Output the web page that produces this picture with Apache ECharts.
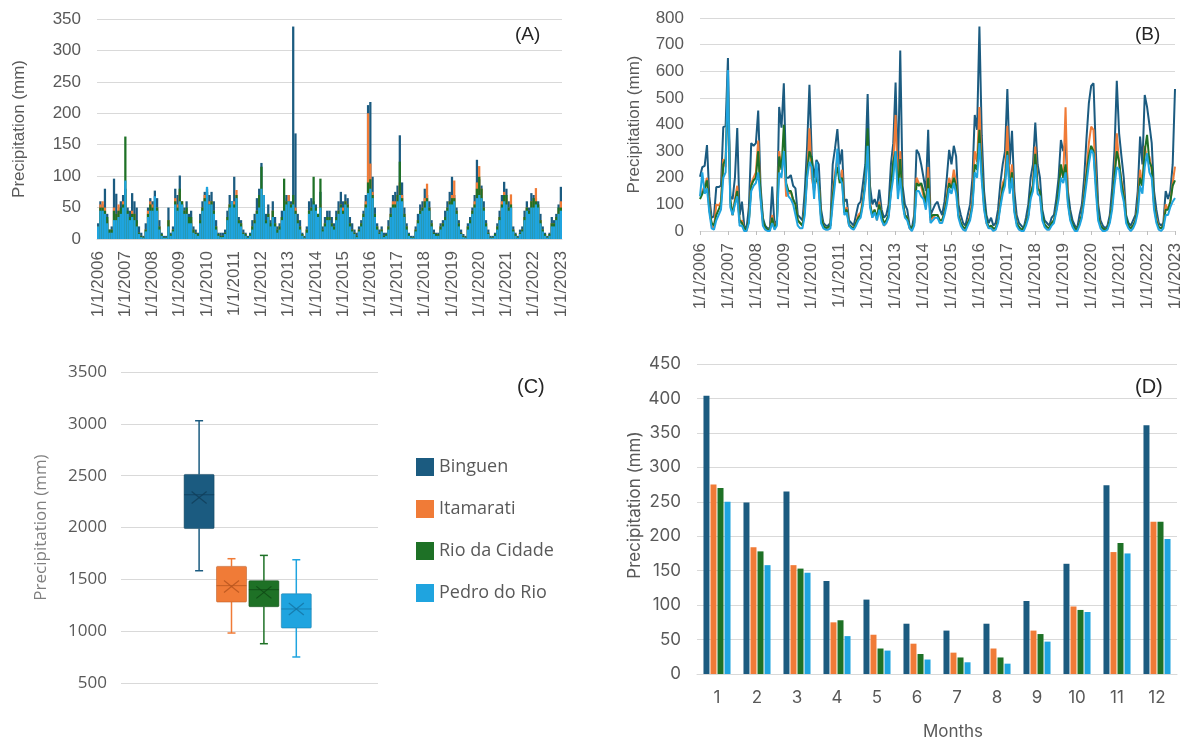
<!DOCTYPE html>
<html>
<head>
<meta charset="utf-8">
<script src="https://cdn.jsdelivr.net/npm/echarts@6/dist/echarts.min.js"></script>
<style>
html,body{margin:0;padding:0;background:#fff;}
#chart{width:1184px;height:742px;}
</style>
</head>
<body>
<div id="chart"></div>
<script>
// ---------- DATA ----------
const stations = ['Binguen', 'Itamarati', 'Rio da Cidade', 'Pedro do Rio'];

// monthly categories Jan 2006 .. Jan 2023
const monthLabels = [];
for (let y = 2006; y <= 2023; y++) {
  for (let m = 1; m <= 12; m++) {
    if (y === 2023 && m > 1) break;
    monthLabels.push(m + '/1/' + y);
  }
}

// (A) maximum daily precipitation per month (mm)
const binguenDaily = [
  25, 60, 55, 80, 40, 15, 20, 96, 72, 45, 60, 70,
  80, 50, 45, 73, 60, 50, 20, 10, 5, 25, 50, 65,
  60, 77, 65, 30, 10, 5, 5, 50, 10, 20, 80, 70,
  101, 55, 50, 60, 40, 45, 20, 15, 10, 40, 60, 75,
  80, 70, 75, 60, 30, 10, 10, 10, 15, 45, 70, 60,
  99, 60, 35, 30, 15, 10, 5, 10, 30, 40, 65, 80,
  121, 70, 40, 55, 30, 60, 35, 20, 25, 45, 65, 70,
  70, 60, 338, 168, 40, 30, 10, 5, 20, 60, 65, 60,
  55, 40, 75, 20, 35, 45, 45, 35, 25, 45, 60, 75,
  60, 71, 65, 35, 25, 15, 10, 20, 30, 45, 70, 213,
  218, 99, 50, 25, 15, 20, 10, 10, 30, 50, 70, 75,
  85, 165, 90, 50, 25, 10, 5, 5, 20, 40, 55, 60,
  80, 70, 60, 30, 15, 10, 10, 25, 30, 45, 60, 75,
  99, 70, 50, 30, 15, 8, 5, 25, 35, 50, 70, 126,
  95, 85, 60, 30, 15, 5, 5, 10, 25, 45, 70, 91,
  80, 60, 50, 20, 10, 5, 15, 20, 45, 60, 50, 73,
  70, 65, 60, 40, 20, 10, 5, 10, 35, 30, 40, 55,
  83
];
const itamaratiDaily = [
  20, 55, 60, 50, 30, 10, 15, 50, 40, 55, 45, 60,
  70, 40, 30, 45, 40, 25, 10, 5, 3, 15, 45, 60,
  55, 60, 50, 20, 8, 3, 3, 30, 8, 15, 65, 55,
  75, 60, 45, 45, 30, 30, 15, 10, 8, 30, 50, 70,
  70, 60, 60, 45, 20, 8, 5, 5, 10, 35, 55, 55,
  60, 78, 30, 25, 10, 8, 3, 8, 20, 30, 45, 65,
  80, 55, 30, 40, 20, 45, 25, 15, 20, 35, 55, 60,
  70, 55, 60, 50, 30, 20, 8, 3, 15, 45, 50, 50,
  45, 35, 55, 15, 25, 35, 35, 25, 20, 35, 45, 55,
  50, 60, 55, 25, 15, 10, 5, 15, 25, 40, 60, 200,
  120, 75, 40, 20, 10, 15, 5, 8, 20, 40, 60, 60,
  70, 90, 70, 40, 20, 8, 3, 3, 15, 30, 45, 50,
  65, 88, 50, 25, 10, 8, 8, 20, 25, 35, 50, 60,
  70, 93, 45, 25, 10, 5, 3, 20, 30, 45, 60, 90,
  116, 80, 50, 25, 10, 3, 3, 8, 20, 35, 60, 75,
  65, 50, 71, 15, 8, 3, 10, 15, 35, 50, 45, 60,
  60, 81, 50, 30, 15, 8, 3, 8, 25, 25, 35, 45,
  60
];
const rioDaily = [
  20, 50, 50, 45, 35, 15, 15, 45, 40, 45, 50, 55,
  163, 45, 35, 40, 40, 30, 10, 5, 3, 15, 40, 55,
  50, 60, 50, 20, 8, 3, 3, 30, 8, 15, 60, 50,
  80, 60, 45, 50, 35, 35, 15, 10, 8, 30, 50, 65,
  75, 55, 60, 45, 20, 8, 5, 5, 10, 35, 55, 50,
  55, 70, 30, 25, 10, 8, 3, 8, 20, 30, 45, 70,
  115, 55, 30, 40, 25, 45, 25, 15, 20, 35, 96, 60,
  60, 55, 70, 45, 30, 20, 8, 3, 15, 45, 50, 99,
  50, 40, 96, 15, 25, 35, 35, 25, 20, 35, 45, 55,
  45, 60, 55, 25, 15, 10, 5, 15, 25, 40, 55, 90,
  95, 70, 40, 20, 10, 15, 5, 8, 20, 40, 55, 55,
  70, 123, 65, 40, 20, 8, 3, 3, 15, 30, 45, 50,
  60, 65, 50, 25, 10, 8, 8, 20, 25, 35, 50, 60,
  65, 65, 45, 25, 10, 5, 3, 20, 30, 45, 55, 80,
  99, 80, 50, 25, 10, 3, 3, 8, 20, 35, 55, 70,
  70, 50, 55, 15, 8, 3, 10, 15, 35, 50, 45, 60,
  65, 60, 55, 30, 15, 8, 3, 8, 25, 25, 35, 50,
  50
];
const pedroDaily = [
  20, 45, 45, 40, 25, 10, 10, 30, 30, 35, 40, 50,
  93, 40, 30, 35, 30, 20, 8, 3, 2, 12, 35, 45,
  45, 68, 45, 15, 5, 2, 2, 20, 5, 12, 55, 45,
  60, 55, 40, 40, 25, 25, 10, 8, 5, 25, 45, 60,
  83, 55, 55, 40, 15, 5, 3, 3, 8, 30, 50, 60,
  50, 65, 25, 20, 8, 5, 2, 5, 15, 25, 40, 50,
  80, 70, 25, 35, 20, 35, 20, 10, 15, 30, 45, 55,
  60, 50, 55, 40, 25, 15, 5, 2, 10, 40, 45, 55,
  45, 35, 50, 12, 20, 30, 30, 20, 15, 30, 40, 50,
  40, 55, 50, 20, 12, 8, 3, 12, 20, 35, 50, 73,
  80, 65, 35, 15, 8, 12, 3, 5, 15, 35, 50, 50,
  60, 70, 60, 35, 15, 5, 2, 2, 12, 25, 40, 45,
  50, 60, 45, 20, 8, 5, 5, 15, 20, 30, 45, 55,
  55, 60, 40, 20, 8, 3, 2, 15, 25, 40, 50, 65,
  70, 65, 45, 20, 8, 2, 2, 5, 15, 30, 50, 60,
  55, 45, 50, 12, 5, 2, 8, 12, 30, 45, 40, 50,
  50, 55, 50, 25, 12, 5, 2, 5, 20, 20, 30, 40,
  45
];

// (B) monthly precipitation totals (mm)
const binguenMonthly = [
  204, 240, 245, 323, 130, 50, 55, 165, 165, 170, 390, 395,
  650, 130, 120, 200, 387, 60, 110, 20, 10, 90, 330, 320,
  330, 452, 170, 50, 20, 10, 10, 167, 20, 40, 466, 388,
  555, 200, 200, 210, 170, 160, 60, 50, 40, 150, 317, 549,
  279, 200, 267, 250, 80, 30, 20, 20, 30, 250, 311, 383,
  250, 306, 110, 120, 40, 30, 20, 60, 100, 110, 180, 250,
  514, 170, 100, 120, 90, 155, 80, 50, 60, 100, 250, 330,
  558, 205, 678, 170, 100, 80, 20, 10, 60, 305, 290, 250,
  200, 150, 380, 60, 80, 100, 110, 80, 60, 110, 200, 305,
  250, 320, 280, 100, 60, 30, 20, 60, 100, 200, 436, 380,
  768, 360, 150, 60, 30, 50, 20, 30, 80, 180, 250, 300,
  533, 250, 376, 150, 60, 30, 20, 10, 50, 100, 200, 250,
  407, 250, 200, 80, 40, 30, 20, 50, 60, 120, 200, 342,
  300, 330, 150, 80, 40, 20, 10, 60, 100, 200, 350, 480,
  545, 555, 300, 100, 40, 20, 10, 20, 60, 160, 300, 564,
  367, 280, 200, 60, 30, 20, 40, 60, 150, 355, 250, 511,
  466, 400, 330, 150, 80, 30, 20, 30, 150, 120, 150, 250,
  533
];
const itamaratiMonthly = [
  130, 150, 170, 200, 90, 20, 10, 100, 95, 110, 270, 240,
  560, 110, 60, 120, 170, 30, 40, 5, 0, 40, 180, 200,
  220, 340, 130, 30, 10, 5, 5, 60, 10, 30, 300, 240,
  300, 130, 140, 150, 110, 100, 40, 30, 20, 90, 200, 386,
  200, 150, 210, 180, 50, 20, 10, 10, 20, 140, 220, 270,
  190, 230, 70, 90, 20, 15, 10, 30, 60, 70, 120, 180,
  330, 110, 50, 80, 40, 110, 50, 20, 30, 60, 150, 250,
  436, 150, 300, 110, 60, 50, 10, 5, 30, 200, 180, 170,
  130, 100, 240, 40, 50, 60, 60, 40, 40, 70, 130, 200,
  170, 230, 180, 60, 30, 10, 5, 30, 60, 120, 300, 260,
  466, 230, 90, 30, 10, 20, 5, 10, 40, 110, 180, 200,
  395, 170, 250, 90, 30, 10, 5, 5, 30, 60, 130, 180,
  317, 170, 140, 50, 20, 10, 10, 30, 40, 80, 140, 240,
  200, 465, 110, 50, 20, 5, 5, 30, 60, 140, 230, 330,
  392, 380, 200, 60, 20, 5, 5, 10, 40, 100, 200, 367,
  250, 190, 140, 40, 15, 10, 20, 40, 100, 230, 170, 320,
  267, 280, 230, 100, 50, 15, 10, 20, 100, 80, 110, 180,
  242
];
const rioMonthly = [
  120, 140, 160, 190, 80, 30, 20, 60, 80, 100, 250, 270,
  540, 120, 60, 110, 150, 40, 30, 10, 5, 40, 170, 190,
  200, 300, 140, 40, 15, 5, 5, 50, 10, 30, 280, 230,
  399, 180, 150, 150, 120, 100, 40, 30, 20, 80, 220, 300,
  270, 160, 200, 180, 50, 20, 10, 15, 20, 130, 200, 240,
  180, 200, 70, 80, 25, 15, 10, 30, 50, 60, 110, 190,
  386, 100, 60, 80, 50, 100, 60, 30, 40, 60, 160, 260,
  300, 160, 270, 120, 60, 50, 15, 10, 30, 180, 170, 180,
  150, 100, 200, 50, 60, 60, 60, 40, 40, 70, 120, 180,
  160, 200, 170, 60, 30, 15, 10, 30, 50, 100, 250, 230,
  380, 220, 100, 40, 15, 20, 10, 10, 40, 100, 160, 190,
  300, 160, 220, 80, 30, 15, 5, 10, 30, 60, 140, 170,
  290, 160, 150, 60, 25, 15, 10, 30, 40, 80, 150, 250,
  200, 250, 120, 50, 25, 10, 5, 30, 60, 130, 210, 280,
  320, 300, 180, 60, 20, 10, 5, 10, 40, 100, 200, 300,
  260, 180, 130, 50, 20, 10, 20, 40, 90, 200, 170, 300,
  361, 260, 240, 100, 40, 15, 10, 20, 80, 80, 110, 170,
  190
];
const pedroMonthly = [
  130, 220, 140, 160, 70, 10, 5, 40, 60, 80, 200, 220,
  605, 90, 60, 100, 130, 20, 20, 0, 0, 30, 150, 170,
  180, 220, 120, 20, 5, 0, 0, 30, 5, 20, 220, 200,
  300, 170, 130, 120, 100, 60, 20, 10, 10, 60, 200, 260,
  240, 120, 260, 150, 30, 10, 5, 5, 10, 100, 180, 310,
  200, 180, 60, 70, 20, 10, 5, 20, 40, 50, 100, 170,
  320, 90, 50, 70, 40, 80, 40, 20, 30, 50, 140, 200,
  300, 120, 200, 100, 50, 40, 10, 0, 20, 150, 150, 130,
  120, 80, 160, 30, 40, 50, 50, 30, 30, 60, 100, 160,
  140, 180, 140, 50, 20, 5, 0, 20, 40, 90, 220, 200,
  330, 190, 80, 30, 10, 10, 0, 5, 30, 90, 140, 170,
  286, 140, 200, 70, 20, 5, 0, 0, 20, 50, 120, 150,
  250, 140, 130, 40, 15, 5, 5, 20, 30, 70, 120, 200,
  180, 220, 100, 40, 15, 0, 0, 20, 50, 110, 180, 250,
  305, 290, 150, 40, 10, 0, 0, 5, 30, 80, 170, 240,
  230, 150, 110, 30, 10, 0, 10, 30, 70, 170, 140, 240,
  292, 220, 200, 80, 30, 5, 0, 10, 60, 60, 90, 110,
  124
];

// (C) annual precipitation box plots: [min, Q1, median, Q3, max, mean]
const binguenAnnual   = [1583, 1990, 2316, 2512, 3030, 2290];
const itamaratiAnnual = [982, 1281, 1439, 1625, 1699, 1430];
const rioAnnual       = [879, 1236, 1400, 1487, 1731, 1374];
const pedroAnnual     = [751, 1030, 1214, 1361, 1689, 1214];

// (D) mean monthly precipitation (mm)
const monthNumbers = ['1','2','3','4','5','6','7','8','9','10','11','12'];
const binguenMean   = [404, 249, 265, 135, 108, 73, 63, 73, 106, 160, 274, 361];
const itamaratiMean = [275, 184, 158, 75, 57, 44, 31, 37, 63, 98, 177, 221];
const rioMean       = [270, 178, 153, 78, 37, 29, 24, 24, 58, 93, 190, 221];
const pedroMean     = [250, 158, 147, 55, 34, 21, 17, 15, 47, 90, 175, 196];

// ---------- STYLE ----------
const COLORS = ['#1b5b80', '#f07b37', '#1e7126', '#1fa4df'];
const DARK = ['#103f5a', '#b8561e', '#0f4a15', '#1577a6'];
const SANS = '"Liberation Sans", Arial, sans-serif';
const OPEN = '"Open Sans", sans-serif';
const INTER = 'Inter, sans-serif';
const GRAY = '#595959';
const GRID_LINE = {lineStyle: {color: '#d9d9d9', width: 1}};

const dailySets = [binguenDaily, itamaratiDaily, rioDaily, pedroDaily];
const monthlySets = [binguenMonthly, itamaratiMonthly, rioMonthly, pedroMonthly];
const annualSets = [binguenAnnual, itamaratiAnnual, rioAnnual, pedroAnnual];
const meanSets = [binguenMean, itamaratiMean, rioMean, pedroMean];

const BOX_STEP = 32.4, BOX_W = 30, BOX_SHIFT = -1.8, CAP_W = 8;

function boxRenderer(k) {
  return function (params, api) {
    const x0 = api.value(0);
    const cx = api.coord([x0, api.value(3)])[0] + (k - 1.5) * BOX_STEP + BOX_SHIFT;
    const y = i => api.coord([x0, api.value(i)])[1];
    const yMin = y(1), yQ1 = y(2), yMed = y(3), yQ3 = y(4), yMax = y(5), yMean = y(6);
    const col = COLORS[k], dk = DARK[k];
    const wl = {stroke: col, lineWidth: 1.5};
    const half = BOX_W / 2;
    return {
      type: 'group',
      children: [
        {type: 'line', shape: {x1: cx, y1: yMax, x2: cx, y2: yQ3}, style: wl},
        {type: 'line', shape: {x1: cx, y1: yQ1, x2: cx, y2: yMin}, style: wl},
        {type: 'line', shape: {x1: cx - CAP_W / 2, y1: yMax, x2: cx + CAP_W / 2, y2: yMax}, style: wl},
        {type: 'line', shape: {x1: cx - CAP_W / 2, y1: yMin, x2: cx + CAP_W / 2, y2: yMin}, style: wl},
        {type: 'rect', shape: {x: cx - half, y: yQ3, width: BOX_W, height: yQ1 - yQ3, r: 1},
          style: {fill: col, stroke: dk, lineWidth: 1, strokeOpacity: 0.5}},
        {type: 'line', shape: {x1: cx - half, y1: yMed, x2: cx + half, y2: yMed}, style: {stroke: dk, lineWidth: 1, opacity: 0.8}},
        {type: 'line', shape: {x1: cx - 7.5, y1: yMean - 6, x2: cx + 7.5, y2: yMean + 6}, style: {stroke: dk, lineWidth: 1.2, opacity: 0.85}},
        {type: 'line', shape: {x1: cx - 7.5, y1: yMean + 6, x2: cx + 7.5, y2: yMean - 6}, style: {stroke: dk, lineWidth: 1.2, opacity: 0.85}}
      ]
    };
  };
}

const yearLabel = v => v;
const plainNum = v => String(v);
const tsXAxis = (gi, boundary) => ({
  gridIndex: gi, type: 'category', data: monthLabels, boundaryGap: boundary,
  axisLine: {lineStyle: {color: '#d9d9d9'}},
  axisTick: {interval: 11, alignWithLabel: true, length: 4, lineStyle: {color: '#bfbfbf'}},
  axisLabel: {interval: 11, rotate: 90, margin: 12, color: GRAY, fontSize: 17, fontFamily: SANS, formatter: yearLabel}
});
const valYAxis = (gi, max, interval, font, nameGap) => ({
  gridIndex: gi, type: 'value', min: 0, max: max, interval: interval,
  axisLine: {show: false}, axisTick: {show: false},
  axisLabel: {color: GRAY, fontSize: 17, fontFamily: font, margin: 16, formatter: plainNum},
  splitLine: GRID_LINE,
  name: 'Precipitation (mm)', nameLocation: 'middle', nameGap: nameGap,
  nameTextStyle: {color: GRAY, fontSize: 17, fontFamily: font}
});

const series = [];
stations.forEach((name, k) => {
  series.push({
    name: name, type: 'bar', xAxisIndex: 0, yAxisIndex: 0, data: dailySets[k],
    barGap: '-100%', barCategoryGap: '0%', itemStyle: {color: COLORS[k]}, silent: true
  });
});
stations.forEach((name, k) => {
  series.push({
    name: name, type: 'line', xAxisIndex: 1, yAxisIndex: 1, data: monthlySets[k],
    showSymbol: false, lineStyle: {color: COLORS[k], width: 2}, itemStyle: {color: COLORS[k]}, silent: true
  });
});
stations.forEach((name, k) => {
  series.push({
    name: name, type: 'custom', xAxisIndex: 2, yAxisIndex: 2,
    data: [[0].concat(annualSets[k])],
    encode: {x: 0, y: [1, 2, 3, 4, 5, 6]},
    renderItem: boxRenderer(k), itemStyle: {color: COLORS[k]}, silent: true
  });
});
stations.forEach((name, k) => {
  series.push({
    name: name, type: 'bar', xAxisIndex: 3, yAxisIndex: 3, data: meanSets[k],
    barWidth: 6, barGap: '17%', itemStyle: {color: COLORS[k]}, silent: true
  });
});

const yC = valYAxis(2, 3500, 500, OPEN, 71);
yC.min = 500;
yC.nameTextStyle = {color: '#7f7f7f', fontSize: 17, fontFamily: OPEN};
yC.axisLabel = {color: GRAY, fontSize: 17, fontFamily: OPEN, margin: 14, formatter: plainNum};
const yD = valYAxis(3, 450, 50, INTER, 54);
yD.nameTextStyle = {color: GRAY, fontSize: 17, fontFamily: INTER, padding: [0, 0, 0, 28]};

const chart = echarts.init(document.getElementById('chart'), null, {renderer: 'canvas'});
chart.setOption({
  animation: false,
  backgroundColor: '#ffffff',
  color: COLORS,
  title: [
    {text: '(A)', left: 515, top: 25, padding: 0, textStyle: {fontSize: 19, fontWeight: 'normal', color: '#262626', fontFamily: SANS}},
    {text: '(B)', left: 1135, top: 25, padding: 0, textStyle: {fontSize: 19, fontWeight: 'normal', color: '#262626', fontFamily: SANS}},
    {text: '(C)', left: 517, top: 377, padding: 0, textStyle: {fontSize: 20, fontWeight: 'normal', color: '#262626', fontFamily: SANS}},
    {text: '(D)', left: 1135, top: 377, padding: 0, textStyle: {fontSize: 20, fontWeight: 'normal', color: '#262626', fontFamily: SANS}}
  ],
  legend: {
    data: stations, orient: 'vertical', left: 411, top: 453,
    itemWidth: 18, itemHeight: 18, itemGap: 24, icon: 'rect', selectedMode: false,
    textStyle: {fontFamily: OPEN, fontSize: 18, color: GRAY}
  },
  grid: [
    {left: 97, top: 19, width: 465, height: 220},
    {left: 700, top: 18, width: 475, height: 213},
    {left: 121, top: 372, width: 257, height: 311},
    {left: 697, top: 364, width: 480, height: 310}
  ],
  xAxis: [
    tsXAxis(0, true),
    tsXAxis(1, false),
    {gridIndex: 2, type: 'category', data: [''], axisLine: {show: false}, axisTick: {show: false}, axisLabel: {show: false}},
    {gridIndex: 3, type: 'category', data: monthNumbers,
      axisLine: {lineStyle: {color: '#d9d9d9'}}, axisTick: {show: false},
      axisLabel: {color: GRAY, fontSize: 17, fontFamily: INTER, margin: 15},
      name: 'Months', nameLocation: 'middle', nameGap: 49,
      nameTextStyle: {color: GRAY, fontSize: 17, fontFamily: INTER, padding: [0, 0, 0, 32]}}
  ],
  yAxis: [
    valYAxis(0, 350, 50, SANS, 69),
    valYAxis(1, 800, 100, SANS, 57),
    yC,
    yD
  ],
  series: series
});
</script>
</body>
</html>
